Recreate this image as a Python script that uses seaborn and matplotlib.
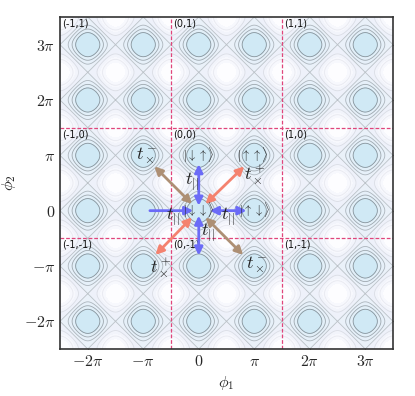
import numpy as np
import matplotlib
matplotlib.use("Agg")
import matplotlib.pyplot as plt
import seaborn as sns

PI = np.pi

# cell grid (in units of pi)
cell_edges = [-0.5, 1.5]
cell_ids = [(-1, 1), (0, 1), (1, 1), (-1, 0), (0, 0), (1, 0), (-1, -1), (0, -1), (1, -1)]
cell_corners = [(-2.5, 3.5), (-0.5, 3.5), (1.5, 3.5),
                (-2.5, 1.5), (-0.5, 1.5), (1.5, 1.5),
                (-2.5, -0.5), (-0.5, -0.5), (1.5, -0.5)]

# tick positions (units of pi) and labels
ticks = [-2, -1, 0, 1, 2, 3]
tick_labels = [r'$-2\pi$', r'$-\pi$', r'$0$', r'$\pi$', r'$2\pi$', r'$3\pi$']

# basis states at the wells (units of pi)
ket_pos = [(0, 0), (0, 1), (0.97, 1), (1, 0)]
ket_text = [r'$|\downarrow\downarrow\rangle$', r'$|\downarrow\uparrow\rangle$',
            r'$|\uparrow\uparrow\rangle$', r'$|\uparrow\downarrow\rangle$']

# hopping arrows: start, end (units of pi), style, colour
arrow_start = [(0, 0.09), (0, -0.09), (0.2, 0), (-0.88, 0),
               (0.12, 0.12), (-0.12, -0.12), (-0.12, 0.12), (0.12, -0.12)]
arrow_end = [(0, 0.84), (0, -0.81), (0.86, 0), (-0.1, 0),
             (0.82, 0.8), (-0.78, -0.8), (-0.8, 0.8), (0.8, -0.8)]
arrow_style = ['<|-|>', '<|-|>', '<|-|>', '-|>',
               '<|-|>', '<|-|>', '<|-|>', '<|-|>']
blue, salmon, brown = '#6b6bf7', '#f4826f', '#ad8f74'
arrow_color = [blue, blue, blue, blue, salmon, salmon, brown, brown]

# hopping labels
hop_pos = [(-0.13, 0.52), (-0.47, -0.12), (0.52, -0.12), (0.17, -0.4),
           (-0.94, 1.0), (1.02, 0.64), (-0.68, -1.04), (1.04, -0.97)]
hop_text = [r'$t_{||}$', r'$t_{||}$', r'$t_{||}$', r'$t_{||}$',
            r'$t_\times^-$', r'$t_\times^+$', r'$t_\times^+$', r'$t_\times^-$']

# potential landscape levels and colours
fill_levels = [-2, -1.4, -0.8, -0.4, 0, 0.4, 0.8, 1.2, 2.01]
fill_colors = ['#fdfdff', '#f7f8fd', '#f2f4fb', '#eef1fa',
               '#eaf1f9', '#e6f0f9', '#e2eff8', '#d0e9f5']
line_levels = [-1.1, -0.5, 0, 0.4, 0.8, 1.2]
line_colors = ['#e8e9f0', '#dadde5', '#bcc2c8', '#adb5bc', '#9ea7ae', '#88939b']

sns.set_style('ticks')
plt.rcParams['mathtext.fontset'] = 'cm'
plt.rcParams['font.family'] = ['DejaVu Sans']

fig = plt.figure(figsize=(4.15, 3.96), dpi=100)
ax = fig.add_axes([0.1446, 0.1187, 0.8024, 0.8384])

x = np.linspace(-2.5 * PI, 3.5 * PI, 700)
X, Y = np.meshgrid(x, x)
Z = np.cos(2 * X) + np.cos(2 * Y)
ax.contourf(X, Y, Z, levels=fill_levels, colors=fill_colors)
ax.contour(X, Y, Z, levels=line_levels, colors=line_colors, linewidths=0.6)

for e in cell_edges:
    ax.axvline(e * PI, color='#e0457b', ls='--', lw=0.9, dashes=(3, 1.5))
    ax.axhline(e * PI, color='#e0457b', ls='--', lw=0.9, dashes=(3, 1.5))

for (cx, cy), (i, j) in zip(cell_corners, cell_ids):
    ax.text(cx * PI + 0.03 * PI, cy * PI - 0.03 * PI, f'({i},{j})',
            ha='left', va='top', fontsize=7, color='#111111')

for s, e, st, c in zip(arrow_start, arrow_end, arrow_style, arrow_color):
    ax.annotate('', xy=(e[0] * PI, e[1] * PI), xytext=(s[0] * PI, s[1] * PI),
                arrowprops=dict(arrowstyle=st, color=c, lw=2, mutation_scale=12,
                                shrinkA=0, shrinkB=0))

for (kx, ky), t in zip(ket_pos, ket_text):
    ax.text(kx * PI, ky * PI, t, ha='center', va='center', fontsize=9, color='#222222')

for (hx, hy), t in zip(hop_pos, hop_text):
    ax.text(hx * PI, hy * PI, t, ha='center', va='center', fontsize=13, color='#222222')

ax.set_xlim(-2.5 * PI, 3.5 * PI)
ax.set_ylim(-2.5 * PI, 3.5 * PI)
ax.set_xticks([t * PI for t in ticks])
ax.set_xticklabels(tick_labels, fontsize=11.5)
ax.set_yticks([t * PI for t in ticks])
ax.set_yticklabels(tick_labels, fontsize=11.5)
ax.tick_params(direction='in', top=True, right=True, length=4, width=0.8)
ax.set_xlabel(r'$\phi_1$', fontsize=11.5)
ax.set_ylabel(r'$\phi_2$', fontsize=11.5)
for sp in ax.spines.values():
    sp.set_color('#333333')
    sp.set_linewidth(1.2)

fig.savefig('out.png', dpi=100)
